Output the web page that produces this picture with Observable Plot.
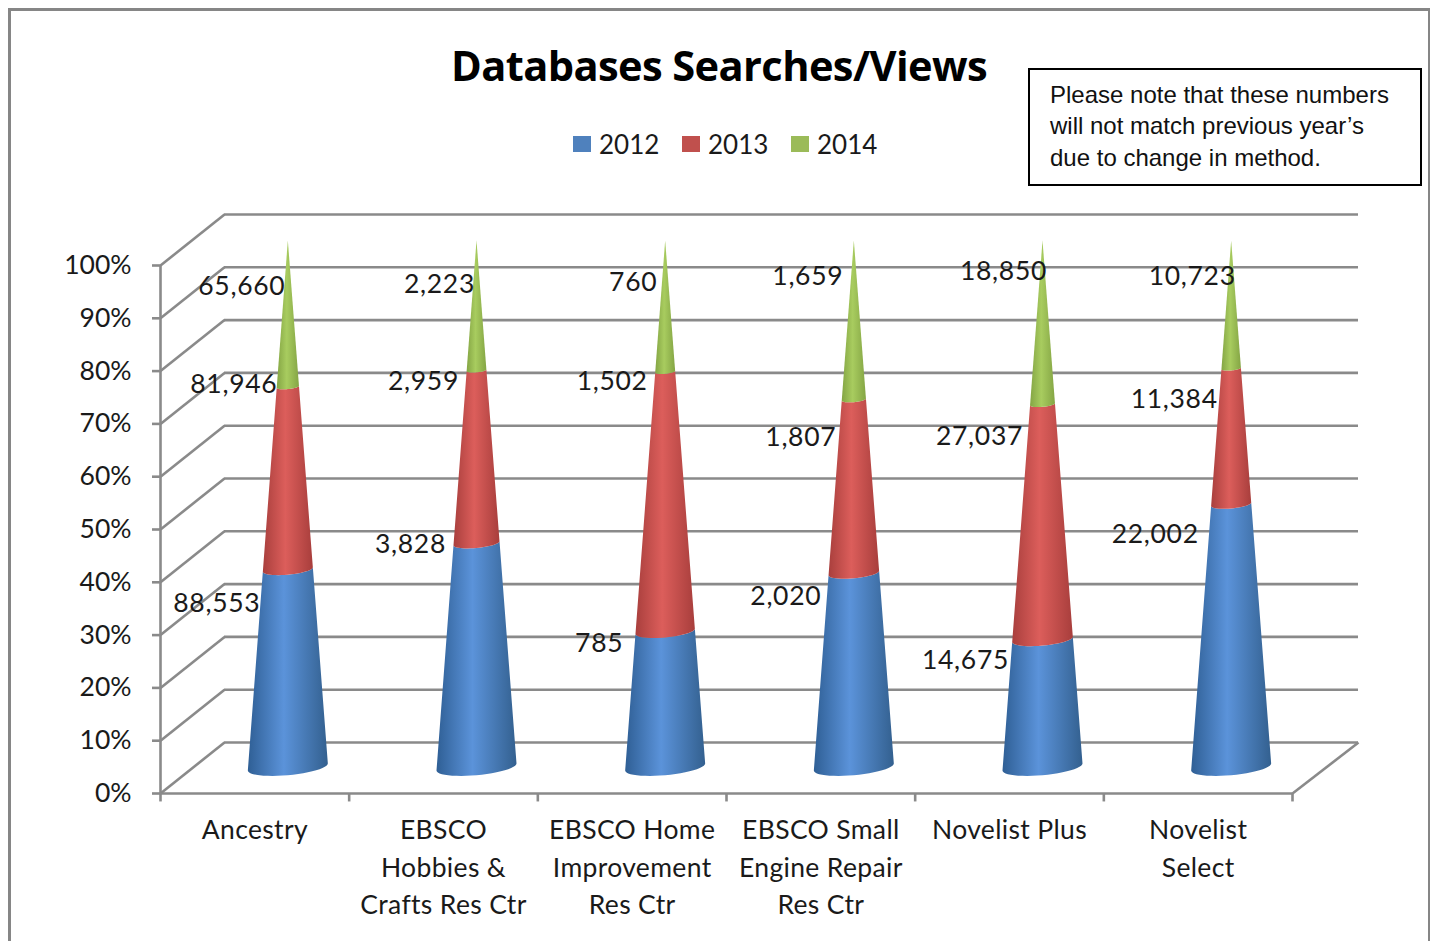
<!DOCTYPE html>
<html><head><meta charset="utf-8">
<script src="https://cdn.jsdelivr.net/npm/d3@7"></script>
<script src="https://cdn.jsdelivr.net/npm/@observablehq/plot@0.6"></script>
<style>
html,body{margin:0;padding:0;background:#fff;overflow:hidden}
#page{position:relative;width:1430px;height:941px;overflow:hidden;font-family:Lato,sans-serif;color:#1a1a1a}
#frame{position:absolute;left:8px;top:8px;width:1417px;height:1000px;border:3px solid #868686}
#head{position:relative;height:190px}
#title{position:absolute;left:451px;top:37px;font-size:41.6px;font-weight:700;line-height:56px;color:#000;white-space:nowrap;font-family:"Open Sans",sans-serif;letter-spacing:-.6px}
#legend{position:absolute;left:573px;top:126px;display:flex;font-size:26px;line-height:36px}
#legend span{display:flex;align-items:center;width:109px}
#legend i{display:block;width:18px;height:16px;margin-right:8px}
#note{position:absolute;left:1028px;top:68px;width:390px;height:114px;border:2px solid #000;background:#fff;font-family:"Liberation Sans",Arial,sans-serif;font-size:24px;line-height:31.3px;color:#111}
#note div{position:absolute;left:20px;top:9px;white-space:nowrap}
svg{display:block}
</style></head><body>
<div id="page">
<div id="frame"></div>
<div id="head">
<div id="title">Databases Searches/Views</div>
<div id="legend"></div>
<div id="note"><div>Please note that these numbers<br>will not match previous year’s<br>due to change in method.</div></div>
</div>
<div id="chart"></div>
</div>
<script>
const categories = ["Ancestry","EBSCO\nHobbies &\nCrafts Res Ctr","EBSCO Home\nImprovement\nRes Ctr","EBSCO Small\nEngine Repair\nRes Ctr","Novelist Plus","Novelist\nSelect"];
const years = ["2012","2013","2014"];
const values2012 = [88553,3828,785,2020,14675,22002];
const values2013 = [81946,2959,1502,1807,27037,11384];
const values2014 = [65660,2223,760,1659,18850,10723];
const percentTicks = [0,10,20,30,40,50,60,70,80,90,100];
const swatchColors = ["#4f81bd","#c0504d","#9bbb59"];

// label placement, in pixels from the cone axis (x) and from the chart floor (y)
const labelLeft2012 = [-71,-66,-66,-68,-77,-76];
const labelRise2012 = [190,249,150,197,133,259];
const labelLeft2013 = [-54,-53,-53,-53,-63,-57];
const labelRise2013 = [409,412,412,356,357,394];
const labelLeft2014 = [-46,-37,-32,-46,-39,-39];
const labelRise2014 = [507,509,511,517,522,517];

// geometry of the 3D box, in scale units
const W = 1132/6, H = 5.28;            // pixels per category, per percent
const depthX = 66/W, wallX = 64/W, depthY = 51/H;
const coneShift = 33/W, coneBase = 26.5/H, coneTop = 104.75;
const coneA = 40/W, coneB = 8.2/H, tilt = 0.0886*W/H;

const series = [values2012,values2013,values2014];
const totals = categories.map((_,i)=>d3.sum(series,s=>s[i]));
function coneArc(i,t,reverse){
  const cx=i+.5+coneShift, cy=coneBase+(coneTop-coneBase)*t, k=1-t;
  let pts=d3.range(0,25).map(j=>{
    const th=Math.PI*(1-j/24), c=Math.cos(th), s=Math.sin(th);
    const x=coneA*k*c;
    return {x:cx+x, y:cy+tilt*x-coneB*k*s};
  });
  return reverse?pts.reverse():pts;
}
const segments = series.map((s,si)=>categories.flatMap((_,i)=>{
  const lo=d3.sum(series.slice(0,si),v=>v[i])/totals[i], hi=lo+s[i]/totals[i];
  return [...coneArc(i,lo,false),...coneArc(i,hi,true)].map(p=>({...p,z:i}));
}));
const labelSets=[[values2012,labelLeft2012,labelRise2012],[values2013,labelLeft2013,labelRise2013],[values2014,labelLeft2014,labelRise2014]];
const labels = labelSets.flatMap(([v,l,r])=>v.map((d,i)=>({
  x:i+.5+coneShift+l[i]/W, y:r[i]/H, text:d3.format(",")(d)})));

const gray="#8a8a8a", sw=2.6;
function defs(){
  const d=document.createElementNS("http://www.w3.org/2000/svg","defs");
  const g=(id,a,b,c)=>`<linearGradient id="${id}" x1="0" x2="1" y1="0" y2="0"><stop offset="0" stop-color="${a}"/><stop offset=".45" stop-color="${b}"/><stop offset="1" stop-color="${c}"/></linearGradient>`;
  d.innerHTML=g("g2012","#2f5f95","#5b93da","#33608f")+g("g2013","#a93f3d","#dc5e5b","#a83e3c")+g("g2014","#84a544","#a8cc5f","#84a544");
  return d;
}
const fs=26.5;
const plot=Plot.plot({
  width:1430,height:751,marginLeft:160,marginRight:72,marginTop:75,marginBottom:148,
  style:{background:"transparent",overflow:"visible",fontFamily:"Lato,sans-serif",color:"#1a1a1a"},
  x:{domain:[0,6+depthX],axis:null},
  y:{domain:[0,100],axis:null},
  marks:[
    defs,
    // back wall grid
    Plot.ruleY(percentTicks,{y:d=>d+depthY,x1:wallX,x2:6+depthX,stroke:gray,strokeWidth:sw}),
    // side wall grid
    Plot.link(percentTicks,{x1:0,y1:d=>d,x2:wallX,y2:d=>d+depthY,stroke:gray,strokeWidth:sw}),
    // front edges
    Plot.ruleX([0],{y1:0,y2:100,stroke:gray,strokeWidth:sw}),
    Plot.ruleY([0],{x1:0,x2:6,stroke:gray,strokeWidth:sw}),
    Plot.link([6],{x1:6,y1:0,x2:6+depthX,y2:depthY,stroke:gray,strokeWidth:sw}),
    Plot.ruleX(d3.range(7),{y1:0,y2:-1.6,stroke:gray,strokeWidth:sw}),
    Plot.axisY({ticks:percentTicks,tickFormat:d=>d+"%",label:null,tickSize:8,tickPadding:21,stroke:gray,strokeWidth:sw,fontSize:fs,fill:"#1a1a1a"}),
    Plot.axisX({ticks:categories.map((_,i)=>i+.5),tickFormat:v=>categories[Math.floor(v)],label:null,tickSize:0,tickPadding:19,fontSize:fs,lineHeight:1.42,fill:"#1a1a1a",className:"catAxis"}),
    // cones
    ...segments.map((pts,si)=>Plot.line(pts,{x:"x",y:"y",z:"z",fill:`url(#g${years[si]})`,stroke:"none"})),
    Plot.text(labels,{x:"x",y:"y",text:"text",fontSize:fs,fill:"#1a1a1a",className:"dataLabels"})
  ]
});
document.getElementById("chart").append(plot);
d3.select(plot).selectAll(".dataLabels text").style("letter-spacing",".7px");
d3.select(plot).selectAll(".catAxis text").style("letter-spacing",".35px");
const lg=d3.select("#legend");
years.forEach((y,i)=>{const s=lg.append("span");s.append("i").style("background",swatchColors[i]);s.append("b").style("font-weight","400").text(y);});
</script>
</body></html>
